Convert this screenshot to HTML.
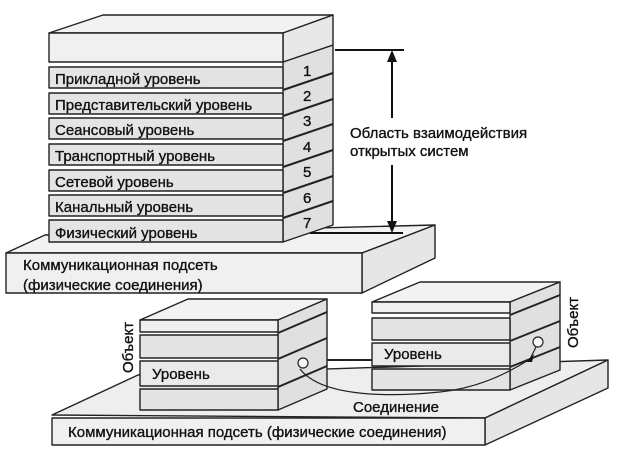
<!DOCTYPE html>
<html><head><meta charset="utf-8"><style>
html,body{margin:0;padding:0;background:#fff}
svg{display:block}
text{font-family:"Liberation Sans","DejaVu Sans",sans-serif;font-size:15px;fill:#111;stroke:#111;stroke-width:0.35}
</style></head><body>
<svg width="620" height="458" viewBox="0 0 620 458" xmlns="http://www.w3.org/2000/svg">
<g stroke="#222" stroke-width="1.4" stroke-linejoin="round">
<polygon points="6,253 45,235 435,225 362,253" fill="#f2f2f2"/>
<polygon points="362,253 435,225 435,258 362,293" fill="#e6e6e6"/>
<rect x="6" y="253" width="356" height="40" fill="#f0f0f0"/>
<polygon points="283,62 333,45 333,225 283,242" fill="#e0e0e0"/>
<polygon points="49,33 103,15 333,15 283,33" fill="#f2f2f2"/>
<polygon points="283,33 333,15 333,45 283,62" fill="#e8e8e8"/>
<rect x="49" y="33" width="234" height="29" fill="#f0f0f0"/>
<rect x="49" y="67" width="234" height="21" fill="#e4e4e4"/>
<rect x="49" y="93" width="234" height="21" fill="#e4e4e4"/>
<rect x="49" y="118" width="234" height="21" fill="#e4e4e4"/>
<rect x="49" y="144" width="234" height="21" fill="#e4e4e4"/>
<rect x="49" y="170" width="234" height="21" fill="#e4e4e4"/>
<rect x="49" y="195" width="234" height="21" fill="#e4e4e4"/>
<rect x="49" y="220" width="234" height="22" fill="#e4e4e4"/>
</g>
<g stroke="#222" stroke-width="2" fill="none">
<path d="M283,90 L333,73 M283,116 L333,99 M283,141 L333,124 M283,167 L333,150 M283,193 L333,176 M283,218 L333,201"/>
</g>
<g font-size="15">
<text x="55" y="84">Прикладной уровень</text>
<text x="55" y="110">Представительский уровень</text>
<text x="55" y="135">Сеансовый уровень</text>
<text x="55" y="161">Транспортный уровень</text>
<text x="55" y="187">Сетевой уровень</text>
<text x="55" y="212">Канальный уровень</text>
<text x="55" y="238">Физический уровень</text>
<text x="303" y="76">1</text><text x="303" y="101">2</text><text x="303" y="126">3</text>
<text x="303" y="152">4</text><text x="303" y="177">5</text><text x="303" y="203">6</text><text x="303" y="228">7</text>
<text x="23" y="270">Коммуникационная подсеть</text>
<text x="23" y="290">(физические соединения)</text>
<text x="350" y="138">Область взаимодействия</text>
<text x="350" y="156">открытых систем</text>
</g>
<g stroke="#111" stroke-width="2">
<line x1="335" y1="50" x2="404" y2="50"/>
<line x1="310" y1="233" x2="403" y2="233"/>
<line x1="392" y1="58" x2="392" y2="118"/>
<line x1="392" y1="165" x2="392" y2="225"/>
</g>
<polygon points="392,50 387,62 397,62" fill="#111"/>
<polygon points="392,233 387,221 397,221" fill="#111"/>

<g stroke="#222" stroke-width="1.4" stroke-linejoin="round">
<polygon points="52,415 138,375 608,360 485,418" fill="#eeeeee"/>
<polygon points="485,418 608,360 608,388 485,445" fill="#e6e6e6"/>
<rect x="52" y="418" width="433" height="27" fill="#f0f0f0"/>
<polygon points="140,320 188,299 327,299 278,320" fill="#f2f2f2"/>
<polygon points="278,320 327,299 327,389 278,410" fill="#e0e0e0"/>
<rect x="140" y="320" width="138" height="12" fill="#f0f0f0"/>
<rect x="140" y="335" width="138" height="23" fill="#e4e4e4"/>
<rect x="140" y="361" width="138" height="25" fill="#eaeaea"/>
<rect x="140" y="389" width="138" height="21" fill="#e4e4e4"/>
<polygon points="372,302 420,282 560,282 510,302" fill="#f2f2f2"/>
<polygon points="510,302 560,282 560,370 510,390" fill="#e0e0e0"/>
<rect x="372" y="302" width="138" height="11" fill="#f0f0f0"/>
<rect x="372" y="318" width="138" height="22" fill="#e4e4e4"/>
<rect x="372" y="343" width="138" height="23" fill="#eaeaea"/>
<rect x="372" y="369" width="138" height="21" fill="#e4e4e4"/>
</g>
<g stroke="#222" stroke-width="2" fill="none">
<path d="M278,333 L327,312 M278,359 L327,338 M278,387 L327,366"/>
<path d="M510,315 L560,295 M510,341 L560,321 M510,367 L560,347"/>
<line x1="327" y1="360" x2="372" y2="360"/>
</g>
<g stroke="#222" stroke-width="1.2" fill="#f6f6f6">
<circle cx="303" cy="363" r="5"/>
<circle cx="538" cy="342" r="5"/>
</g>
<path d="M300,369 C320,395 380,398 440,392 C480,388 510,372 530,359" stroke="#222" stroke-width="1.2" fill="none"/>
<line x1="530" y1="359" x2="536" y2="347" stroke="#222" stroke-width="1.2"/>
<polygon points="526,362 534,354 532,362" fill="#111"/>
<g font-size="15">
<text x="152" y="379">Уровень</text>
<text x="384" y="359">Уровень</text>
<text x="353" y="412">Соединение</text>
<text x="68" y="437">Коммуникационная подсеть (физические соединения)</text>
<text transform="translate(133,373) rotate(-90)">Объект</text>
<text transform="translate(578,348) rotate(-90)">Объект</text>
</g>
</svg>
</body></html>
